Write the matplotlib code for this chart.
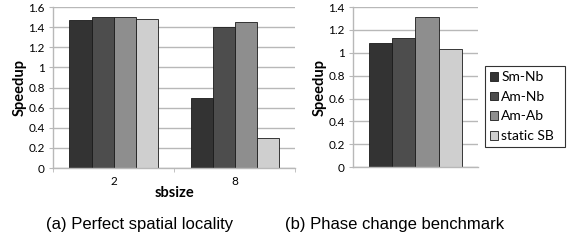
import matplotlib
matplotlib.use("Agg")
import matplotlib.pyplot as plt
import numpy as np

series = ["Sm-Nb", "Am-Nb", "Am-Ab", "static SB"]
colors = ["#333333", "#4d4d4d", "#8e8e8e", "#cfcfcf"]

sbsize = ["2", "8"]
perfect = {
    "Sm-Nb": [1.47, 0.70],
    "Am-Nb": [1.50, 1.40],
    "Am-Ab": [1.50, 1.45],
    "static SB": [1.48, 0.30],
}
phase = {
    "Sm-Nb": [1.09],
    "Am-Nb": [1.13],
    "Am-Ab": [1.31],
    "static SB": [1.03],
}

tickfont = "Lato"
grid_c = "#b8b8b8"

fig = plt.figure(figsize=(5.75, 2.45), dpi=100)
ax1 = fig.add_axes([0.0922, 0.314, 0.421, 0.657])
ax2 = fig.add_axes([0.614, 0.318, 0.217, 0.653])

def style(ax, ymax, step):
    ax.set_ylim(0, ymax)
    vals = np.arange(0, ymax + 1e-9, step)
    ax.set_yticks(vals)
    ax.set_yticklabels([("%g" % round(v, 1)) for v in vals],
                       fontsize=8.5, family=tickfont)
    ax.yaxis.grid(True, color=grid_c, linewidth=1)
    ax.set_axisbelow(True)
    for s in ["top", "right"]:
        ax.spines[s].set_visible(False)
    for s in ["left", "bottom"]:
        ax.spines[s].set_color(grid_c)
        ax.spines[s].set_linewidth(1)
    ax.tick_params(axis="y", length=3, color=grid_c, pad=3)
    ax.set_ylabel("Speedup", fontsize=10.5, fontweight="bold", family=tickfont, labelpad=1)

# Left chart
bw = 0.182
x = np.arange(len(sbsize))
for i, s in enumerate(series):
    ax1.bar(x + (i - 1.5) * bw, perfect[s], bw, color=colors[i],
            edgecolor="#1a1a1a", linewidth=0.6, label=s)
ax1.set_xlim(-0.5, len(sbsize) - 0.5)
style(ax1, 1.6, 0.2)
ax1.set_xticks(x)
ax1.set_xticklabels(sbsize, fontsize=8.5, family=tickfont)
ax1.tick_params(axis="x", which="major", length=0, pad=6)
ax1.set_xticks(np.arange(-0.5, len(sbsize), 1.0), minor=True)
ax1.tick_params(axis="x", which="minor", length=3, color=grid_c)
ax1.set_xlabel("sbsize", fontsize=10.5, fontweight="bold", family=tickfont, labelpad=-1)

# Right chart
bw2 = 0.186
x2 = np.arange(1)
handles = []
for i, s in enumerate(series):
    h = ax2.bar(x2 + (i - 1.5) * bw2, phase[s], bw2, color=colors[i],
                edgecolor="#1a1a1a", linewidth=0.6, label=s)
    handles.append(h)
ax2.set_xlim(-0.5, 0.5)
style(ax2, 1.4, 0.2)
ax2.set_xticks([])

leg = fig.legend(handles, series, loc="lower left",
                 bbox_to_anchor=(0.843, 0.40, 0.14, 0.412), mode="expand",
                 frameon=True, fancybox=False, edgecolor="black",
                 prop={"family": tickfont, "size": 10},
                 handlelength=0.6, handleheight=0.6, handletextpad=0.25,
                 borderpad=0.35, labelspacing=0.55, borderaxespad=0)
leg.get_frame().set_linewidth(0.8)

fig.text(0.242, 0.085, "(a) Perfect spatial locality", ha="center", va="center",
         fontsize=12, family="Liberation Sans")
fig.text(0.687, 0.085, "(b) Phase change benchmark", ha="center", va="center",
         fontsize=12, family="Liberation Sans")

fig.savefig("out.png", dpi=100)
